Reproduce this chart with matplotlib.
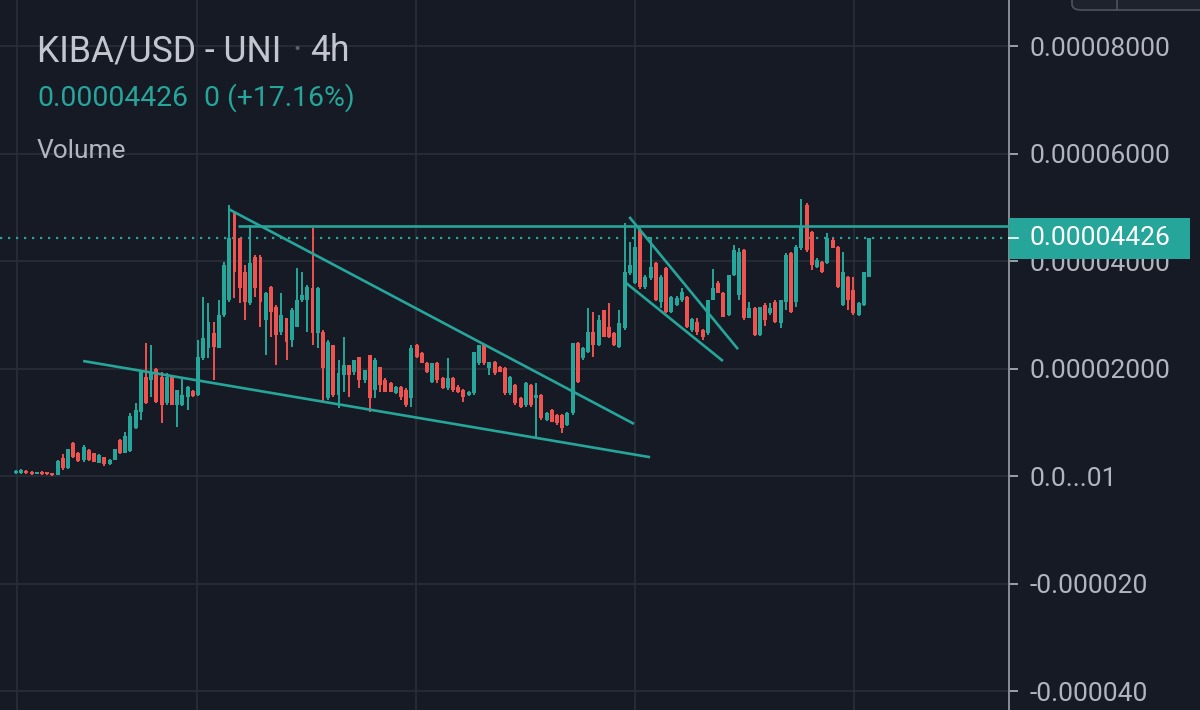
import matplotlib

matplotlib.use("Agg")
import matplotlib.pyplot as plt
from matplotlib.patches import Rectangle, FancyBboxPatch
from matplotlib.transforms import blended_transform_factory

# prices in units of 1e-5 USD, one 4h candle per entry
OPEN = [
    0.06, 0.06, 0.09, 0.07, 0.04, 0.07, 0.07, 0.06, 0.02, 0.33,
    0.15, 0.61, 0.43, 0.30, 0.48, 0.43, 0.24, 0.35, 0.22, 0.30,
    0.67, 0.43, 0.47, 0.89, 1.19, 1.84, 1.79, 1.99, 1.84, 1.36,
    1.84, 1.32, 1.32, 1.47, 1.58, 1.51, 2.20, 2.38, 2.66, 2.38,
    3.00, 3.27, 4.89, 4.43, 3.80, 3.22, 4.07, 4.07, 2.90, 3.52,
    3.14, 2.68, 2.94, 2.53, 2.77, 3.27, 3.27, 3.50, 2.66, 2.68,
    1.45, 2.44, 1.51, 1.88, 2.07, 1.93, 2.21, 1.79, 2.25, 1.60,
    2.03, 1.79, 1.73, 1.54, 1.66, 1.60, 1.45, 2.44, 2.29, 2.10,
    1.75, 2.10, 1.82, 1.64, 1.82, 1.66, 1.60, 1.51, 1.54, 2.10,
    2.44, 2.01, 2.12, 2.03, 2.01, 1.54, 1.69, 1.45, 1.32, 1.69,
    1.45, 1.51, 1.04, 1.23, 1.13, 1.13, 0.95, 1.17, 2.47, 2.20,
    2.31, 2.68, 2.44, 3.09, 2.77, 2.66, 2.40, 2.75, 3.78, 3.59,
    4.58, 3.52, 3.68, 3.96, 3.24, 3.87, 3.05, 3.18, 3.27, 3.33,
    2.72, 2.87, 2.72, 2.66, 3.27, 3.59, 3.40, 3.00, 3.74, 3.37,
    4.20, 2.94, 3.13, 2.62, 3.18, 3.03, 3.24, 2.85, 3.24, 4.15,
    3.24, 4.24, 5.04, 4.54, 3.89, 3.98, 3.96, 4.39, 4.26, 3.18,
    3.70, 3.46, 3.00, 3.18, 3.70,
]
HIGH = [
    0.11, 0.13, 0.11, 0.09, 0.07, 0.09, 0.07, 0.06, 0.30, 0.41,
    0.50, 0.63, 0.45, 0.58, 0.50, 0.43, 0.41, 0.35, 0.32, 0.50,
    0.69, 0.82, 1.17, 1.36, 1.97, 2.47, 2.44, 2.01, 1.93, 1.92,
    1.88, 1.60, 1.84, 1.67, 1.60, 2.53, 3.33, 3.22, 2.87, 3.27,
    3.98, 5.04, 4.91, 4.43, 3.93, 4.67, 4.11, 4.11, 3.42, 3.54,
    3.18, 3.40, 2.94, 3.13, 3.87, 3.80, 3.55, 4.61, 3.52, 2.72,
    2.53, 2.44, 2.16, 2.59, 2.07, 2.16, 2.21, 1.97, 2.25, 2.20,
    2.03, 1.82, 1.75, 1.67, 1.67, 1.64, 2.44, 2.46, 2.31, 2.12,
    2.10, 2.12, 1.84, 2.20, 1.84, 1.69, 1.62, 1.58, 2.31, 2.44,
    2.44, 2.12, 2.14, 2.05, 2.03, 1.86, 1.71, 1.47, 1.75, 1.71,
    1.73, 1.53, 1.19, 1.25, 1.15, 1.15, 1.19, 2.47, 2.49, 2.40,
    3.13, 3.05, 3.00, 3.09, 3.22, 2.68, 3.09, 4.71, 4.35, 4.61,
    4.61, 3.74, 4.45, 3.98, 3.74, 3.89, 3.35, 3.35, 3.50, 3.35,
    2.94, 2.94, 2.73, 3.27, 3.85, 3.63, 3.42, 3.74, 4.30, 4.24,
    4.22, 3.24, 3.14, 3.14, 3.22, 3.22, 3.27, 3.27, 4.15, 4.17,
    4.30, 5.15, 5.08, 4.56, 4.06, 4.00, 4.52, 4.43, 4.28, 4.17,
    3.72, 3.70, 3.24, 3.80, 4.43,
]
LOW = [
    0.04, 0.04, 0.04, 0.02, 0.04, 0.02, 0.02, 0.00, 0.02, 0.11,
    0.13, 0.33, 0.26, 0.26, 0.28, 0.26, 0.24, 0.19, 0.20, 0.30,
    0.41, 0.43, 0.45, 0.87, 1.04, 1.34, 1.47, 1.36, 0.99, 1.32,
    1.32, 0.91, 1.30, 1.23, 1.47, 1.49, 2.16, 2.20, 1.79, 2.38,
    2.96, 3.24, 3.31, 3.22, 2.90, 3.18, 3.33, 2.77, 2.25, 2.59,
    2.07, 2.62, 2.16, 2.40, 2.77, 3.24, 2.68, 2.44, 2.38, 1.38,
    1.41, 1.47, 1.27, 1.56, 1.47, 1.88, 1.64, 1.73, 1.19, 1.45,
    1.56, 1.56, 1.56, 1.53, 1.41, 1.28, 1.28, 2.20, 2.10, 1.91,
    1.73, 1.73, 1.62, 1.60, 1.56, 1.54, 1.38, 1.49, 1.51, 2.07,
    2.07, 1.88, 1.88, 1.93, 1.51, 1.51, 1.32, 1.27, 1.28, 1.28,
    0.73, 1.04, 1.02, 1.00, 0.95, 0.80, 0.93, 1.13, 1.73, 2.16,
    2.29, 2.21, 2.42, 2.59, 2.57, 2.42, 2.38, 2.72, 3.74, 3.57,
    3.48, 3.48, 3.65, 3.26, 3.13, 3.03, 3.03, 3.16, 3.24, 2.75,
    2.68, 2.62, 2.53, 2.62, 3.27, 3.40, 2.96, 2.98, 3.72, 3.27,
    2.90, 2.94, 2.60, 2.60, 2.79, 3.00, 2.85, 2.75, 3.09, 3.03,
    3.14, 4.20, 4.17, 3.83, 3.87, 3.78, 3.94, 4.24, 3.50, 3.16,
    3.09, 3.00, 2.98, 3.16, 3.70,
]
CLOSE = [
    0.09, 0.11, 0.06, 0.04, 0.06, 0.04, 0.04, 0.02, 0.28, 0.15,
    0.50, 0.35, 0.28, 0.54, 0.30, 0.26, 0.39, 0.22, 0.30, 0.50,
    0.43, 0.74, 1.12, 1.23, 1.93, 1.36, 1.93, 1.38, 1.32, 1.84,
    1.32, 1.60, 1.51, 1.66, 1.49, 2.21, 2.57, 2.87, 2.40, 3.00,
    3.93, 4.43, 3.80, 3.50, 3.24, 3.96, 3.50, 3.24, 3.40, 3.05,
    2.62, 3.00, 2.49, 3.09, 3.27, 3.37, 3.52, 2.66, 3.50, 2.01,
    2.49, 1.51, 1.92, 2.07, 1.88, 2.16, 1.79, 1.97, 1.45, 2.16,
    1.69, 1.56, 1.56, 1.66, 1.47, 1.32, 2.38, 2.21, 2.10, 1.93,
    2.10, 1.79, 1.64, 1.82, 1.60, 1.56, 1.47, 1.56, 2.31, 2.44,
    2.10, 2.12, 1.92, 1.93, 1.54, 1.84, 1.36, 1.28, 1.73, 1.32,
    1.51, 1.08, 1.17, 1.00, 0.99, 0.89, 1.17, 2.47, 1.75, 2.38,
    2.68, 2.44, 2.90, 2.59, 2.59, 2.44, 2.85, 3.80, 3.93, 4.26,
    3.52, 3.70, 3.89, 3.27, 3.70, 3.05, 3.33, 3.31, 3.42, 2.77,
    2.92, 2.68, 2.59, 3.27, 3.50, 3.40, 2.96, 3.74, 4.20, 4.17,
    2.94, 3.13, 2.62, 3.14, 2.90, 3.13, 2.87, 3.27, 4.11, 3.05,
    4.26, 4.63, 4.20, 3.93, 4.02, 3.80, 4.43, 4.24, 3.52, 3.80,
    3.27, 3.03, 3.22, 3.80, 4.426,
]
PRICE_UNIT = 1e-5
LAST_PRICE = 4.426

# drawn trendlines: (candle index, price) pairs
SUPPORT = [(12.9, 2.14), (121.9, 0.35)]
WEDGE_TOP = [(40.8, 4.97), (118.8, 0.97)]
RESISTANCE = [(42.7, 4.65), (191.0, 4.65)]
FLAG_TOP = [(117.9, 4.82), (138.8, 2.36)]
FLAG_BOTTOM = [(117.3, 3.59), (135.9, 2.14)]

# day separators (candle index) and price ticks
TIME_GRID = [0.2, 34.8, 76.9, 119.0, 161.1]
Y_TICKS = [8, 6, 4, 2, 0, -2, -4]
Y_LABELS = ["0.00008000", "0.00006000", "0.00004000", "0.00002000",
            "0.0...01", "-0.000020", "-0.000040"]

BG = "#161a25"
GRID = "#2a2e39"
UP = "#26a69a"
DOWN = "#ef5350"
TEXT = "#b2b5be"

plt.rcParams["font.family"] = ["Roboto", "DejaVu Sans"]

fig = plt.figure(figsize=(12, 7.1), dpi=100, facecolor=BG)
ax = fig.add_axes([0, 0, 1009 / 1200, 1])
ax.set_facecolor(BG)

n = len(CLOSE)
xs = list(range(n))
colors = [UP if c >= o else DOWN for o, c in zip(OPEN, CLOSE)]
ax.vlines(xs, LOW, HIGH, colors=colors, linewidth=1.4, zorder=3)
bottoms = [min(o, c) for o, c in zip(OPEN, CLOSE)]
heights = [max(abs(c - o), 0.03) for o, c in zip(OPEN, CLOSE)]
ax.bar(xs, heights, bottom=bottoms, width=0.76, color=colors, linewidth=0, zorder=3)

for seg in (SUPPORT, WEDGE_TOP, RESISTANCE, FLAG_TOP, FLAG_BOTTOM):
    ax.plot([p[0] for p in seg], [p[1] for p in seg], color=UP, lw=1.9,
            solid_capstyle="butt", zorder=4)

ax.axhline(LAST_PRICE, color=UP, lw=1.6, dashes=(1, 2.6), zorder=2)

for gx in TIME_GRID:
    ax.axvline(gx, color=GRID, lw=1.2, zorder=1)
for gy in Y_TICKS:
    ax.axhline(gy, color=GRID, lw=1.2, zorder=1)

ax.set_xlim(-3.08, 190.9)
ax.set_ylim(-4.353, 8.856)
ax.set_xticks([])
ax.set_yticks(Y_TICKS)
ax.set_yticklabels(Y_LABELS)
ax.yaxis.tick_right()
ax.tick_params(axis="y", colors=TEXT, labelcolor=TEXT, labelsize=19,
               length=6.5, width=1.2, pad=8)
for side in ("top", "left", "bottom"):
    ax.spines[side].set_visible(False)
ax.spines["right"].set_color("#8a8d96")
ax.spines["right"].set_linewidth(1.4)

# last price badge on the axis
tr = blended_transform_factory(ax.transAxes, ax.transData)
h = 41 / 710 * (8.856 + 4.353)
ax.add_patch(Rectangle((1.0, LAST_PRICE - h / 2), 181 / 1009, h, transform=tr,
                       facecolor=UP, edgecolor="none", clip_on=False, zorder=10))
ax.plot([1.0, 1.009], [LAST_PRICE, LAST_PRICE], transform=tr, color="white",
        lw=1.2, clip_on=False, zorder=11)
ax.text(1.02, LAST_PRICE, f"{LAST_PRICE * PRICE_UNIT:.8f}", transform=tr,
        color="white", fontsize=19, va="center", ha="left", zorder=11)

# header
fig.text(37 / 1200, 1 - 61 / 710, "KIBA/USD - UNI", color="#c3c6ce",
         fontsize=25.6, va="baseline")
fig.text(292 / 1200, 1 - 61 / 710, "·", color="#5d606b", fontsize=25.6, va="baseline")
fig.text(310 / 1200, 1 - 61 / 710, "4h", color="#c3c6ce", fontsize=25.6, va="baseline")
fig.text(37 / 1200, 1 - 106 / 710, f"{CLOSE[-1] * PRICE_UNIT:.8f}", color=UP,
         fontsize=20.4, va="baseline")
fig.text(204 / 1200, 1 - 106 / 710, "0 (+17.16%)", color=UP, fontsize=20.4,
         va="baseline")
fig.text(37 / 1200, 1 - 158 / 710, "Volume", color=TEXT, fontsize=19, va="baseline")

# partially visible toolbar button at the top right
fig.patches.append(FancyBboxPatch((1072 / 1200, 1 - 10 / 710), 160 / 1200, 30 / 710,
                                  boxstyle="round,pad=0,rounding_size=0.008",
                                  transform=fig.transFigure, facecolor="#1e222d",
                                  edgecolor="#50535e", lw=1.2))
fig.add_artist(plt.Line2D([1117 / 1200, 1117 / 1200], [1 - 10 / 710, 1],
                          transform=fig.transFigure, color="#50535e", lw=1.2))

fig.savefig("out.png", dpi=100, facecolor=BG)
